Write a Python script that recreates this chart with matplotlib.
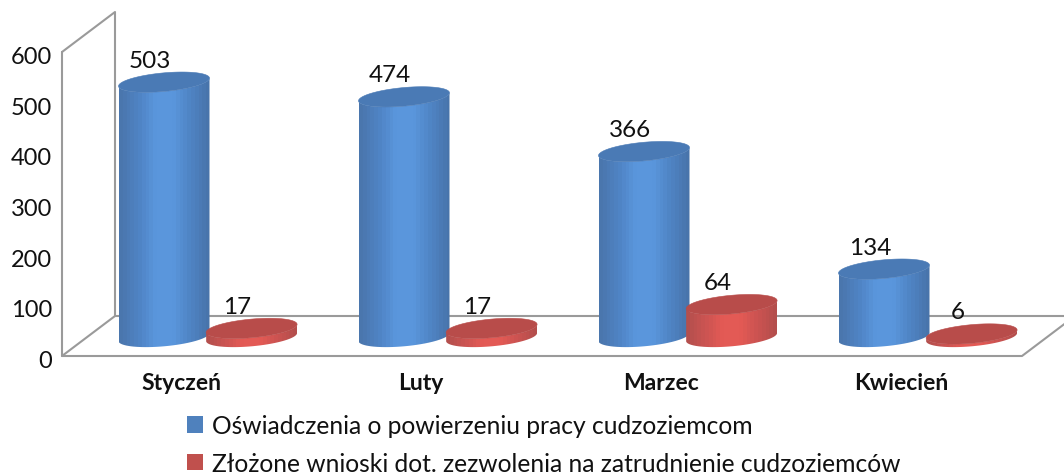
import numpy as np
import matplotlib
matplotlib.use("Agg")
import matplotlib.pyplot as plt
from matplotlib.patches import Polygon, Patch
from matplotlib.colors import LinearSegmentedColormap

categories = ["Styczeń", "Luty", "Marzec", "Kwiecień"]
oswiadczenia = [503, 474, 366, 134]
wnioski = [17, 17, 64, 6]
y_ticks = [0, 100, 200, 300, 400, 500, 600]
series_names = ["Oświadczenia o powierzeniu pracy cudzoziemcom",
                "Złożone wnioski dot. zezwolenia na zatrudnienie cudzoziemców"]

W, H = 1064, 477
FONT = "Lato"
fig = plt.figure(figsize=(W / 100, H / 100), dpi=100)
ax = fig.add_axes([62 / W, 1 - 357 / H, 960 / W, 304 / H])
ax.set_xlim(0, 4)
ax.set_ylim(0, 600)
ax.axis("off")
px_x = 4 / 960
px_y = 600 / 304

# 3-D box
dx, dy = 53 * px_x, 40 * px_y
wall = dict(color="#9a9a9a", lw=1.5, clip_on=False, zorder=1, solid_capstyle="round")
ax.plot([0, 0, dx, dx, 0], [600, 0, dy, 600 + dy, 600], **wall)
ax.plot([dx, 4 + dx], [dy, dy], **wall)
ax.plot([0, 4, 4 + dx], [0, 0, dy], **wall)

for v in y_ticks:
    ax.text(-10 * px_x, v - 2.5 * px_y, str(v), ha="right", va="center_baseline", fontsize=17,
            family=FONT, color="#111111")
for i, c in enumerate(categories):
    ax.text(i + 0.5 - 1 * px_x, -25 * px_y, c, ha="center", va="center_baseline", fontsize=16.5,
            fontweight="bold", family=FONT, color="#111111")

blue_cm = LinearSegmentedColormap.from_list("b", ["#4a76ad", "#4f83c4", "#5a96dc", "#5a96dc", "#4f84c4", "#4874ab"])
red_cm = LinearSegmentedColormap.from_list("r", ["#b44f4d", "#cc5452", "#e35a55", "#e35a55", "#cc5351", "#b44e4c"])

a = 45.5 * px_x
b = 9.3 * px_y
shear = 4.0 * px_y
base = 19 * px_y
t = np.linspace(0, 2 * np.pi, 121)


def ellipse(cx, cy):
    return cx + a * np.cos(t), cy + b * np.sin(t) + shear * np.cos(t)


def cylinder(cx, value, cmap, top_color, z):
    y0, y1 = base, base + value
    ex, ey = ellipse(cx, y1)
    bx, by = ellipse(cx, y0)
    lower = np.sin(t) <= 0
    order = np.argsort(bx[lower])
    outline = np.vstack([
        np.column_stack([bx[lower][order], by[lower][order]]),
        np.column_stack([ex[lower][order][::-1], ey[lower][order][::-1]]),
    ])
    clip = Polygon(outline, closed=True, transform=ax.transData, fc="none", ec="none")
    ax.add_patch(clip)
    grad = np.linspace(0, 1, 24).reshape(1, -1)
    im = ax.imshow(grad, extent=[cx - a, cx + a, y0 - 2 * b, y1 + 2 * b], cmap=cmap,
                   aspect="auto", zorder=z, interpolation="nearest", vmin=0, vmax=1)
    im.set_clip_path(clip)
    ax.fill(ex, ey, color=top_color, zorder=z + 0.1, lw=0.4, clip_on=False)
    return y1


for i, (v1, v2) in enumerate(zip(oswiadczenia, wnioski)):
    for cx, v, cm, tc, z in ((i + 0.425, v1, blue_cm, "#4a7ab5", 2),
                             (i + 0.79, v2, red_cm, "#b84c4a", 3)):
        top = cylinder(cx, v, cm, tc, z)
        ax.annotate(str(v), (cx, top), xytext=(-14 * 0.72, 24 * 0.72), textcoords="offset points",
                    ha="center", va="center_baseline", fontsize=17.5, family=FONT, color="#111111", zorder=6)
ax.set_xlim(0, 4)
ax.set_ylim(0, 600)

handles = [Patch(fc="#4f81bd", ec="none"), Patch(fc="#c0504d", ec="none")]
fig.legend(handles, series_names, loc="upper left", bbox_to_anchor=(187 / W, 1 - 415 / H),
           frameon=False, handlelength=0.65, handleheight=0.65, handletextpad=0.37,
           labelspacing=0.6, borderpad=0, borderaxespad=0,
           prop={"family": FONT, "size": 17.7}, labelcolor="#111111")
fig.savefig("out.png", dpi=100)
